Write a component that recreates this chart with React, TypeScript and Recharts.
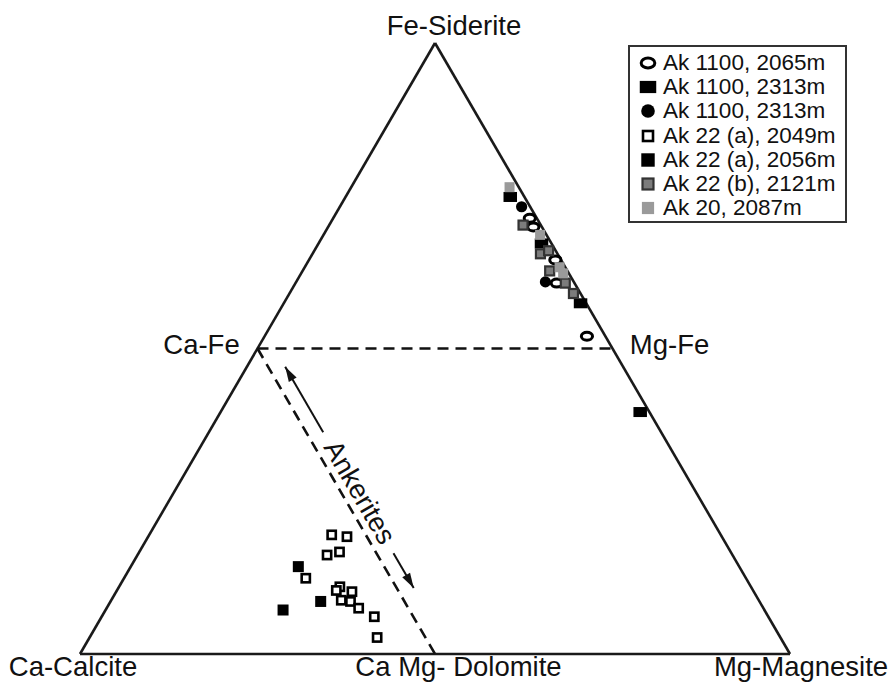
import React from 'react';
import { ScatterChart, Scatter, XAxis, YAxis, ReferenceLine, ReferenceDot, Legend } from 'recharts';

// Compositions as [Ca, Mg, Fe] in percent
type Comp = [number, number, number];

const seriesNames = [
  'Ak 1100, 2065m',
  'Ak 1100, 2313m',
  'Ak 1100, 2313m',
  'Ak 22 (a), 2049m',
  'Ak 22 (a), 2056m',
  'Ak 22 (b), 2121m',
  'Ak 20, 2087m',
];

const ak1100_2065m: Comp[] = [
  [1.0, 27.7, 71.3], [1.2, 28.9, 69.9], [0.8, 34.7, 64.5], [2.5, 36.8, 60.7], [2.6, 45.4, 52.0],
];
const ak1100_2313m_sq: Comp[] = [
  [2.0, 23.2, 74.8], [1.4, 31.4, 67.2], [0.8, 41.8, 57.4], [1.3, 59.1, 39.6],
];
const ak1100_2313m_ci: Comp[] = [
  [1.2, 25.6, 73.2], [4.0, 35.1, 60.9],
];
const ak22a_2049m: Comp[] = [
  [54.8, 25.7, 19.5], [52.8, 28.0, 19.2], [57.1, 26.7, 16.2], [55.1, 28.2, 16.7],
  [62.0, 25.6, 12.4], [57.9, 31.1, 11.0], [58.7, 30.9, 10.4], [56.6, 33.2, 10.2],
  [58.8, 32.4, 8.8], [57.6, 33.8, 8.6], [57.0, 35.5, 7.5], [55.5, 38.4, 6.1], [56.8, 40.5, 2.7],
];
const ak22a_2056m: Comp[] = [
  [62.1, 23.6, 14.3], [61.8, 29.6, 8.6], [67.8, 25.0, 7.2],
];
const ak22b_2121m: Comp[] = [
  [2.5, 27.3, 70.2], [2.4, 32.1, 65.5], [1.0, 33.0, 66.0], [2.5, 34.8, 62.7], [1.3, 38.0, 60.7], [1.0, 40.0, 59.0],
];
const ak20_2087m: Comp[] = [
  [1.3, 22.3, 76.4], [0.9, 30.5, 68.6], [0.8, 35.9, 63.3], [0.8, 36.9, 62.3],
];

const markerKinds = ['ring', 'bar', 'dot', 'box', 'solid', 'greyBox', 'lightBox'];
const seriesData = [ak1100_2065m, ak1100_2313m_sq, ak1100_2313m_ci, ak22a_2049m, ak22a_2056m, ak22b_2121m, ak20_2087m];

// Diagram geometry (compositions)
const vertexLabels = ['Ca-Calcite', 'Mg-Magnesite', 'Fe-Siderite'];
const vertices: Comp[] = [[100, 0, 0], [0, 100, 0], [0, 0, 100]];
const midLabels = ['Ca-Fe', 'Mg-Fe', 'Ca Mg- Dolomite'];
const midpoints: Comp[] = [[50, 0, 50], [0, 50, 50], [50, 50, 0]];
const annotationText = 'Ankerites';
const annotationAt: Comp = [47.3, 26.2, 26.5];
const arrowUpper: Comp[] = [[47.6, 16.1, 36.3], [47.6, 5.4, 47.0]];
const arrowLower: Comp[] = [[47.6, 35.9, 16.5], [47.6, 41.6, 10.8]];

const toXY = (c: Comp) => {
  const s = c[0] + c[1] + c[2];
  return { x: (c[1] + c[2] / 2) / s, y: c[2] / s };
};

const W = 892;
const H = 683;
const M = { top: 43, right: 102, bottom: 29, left: 80 };
const PW = W - M.left - M.right;
const PH = H - M.top - M.bottom;
const LINE_ANGLE = (Math.atan2(PH, PW / 2) * 180) / Math.PI;
const FONT = '"Liberation Sans", Arial, Helvetica, sans-serif';

function Marker({ kind, cx, cy, big }: { kind: string; cx: number; cy: number; big?: boolean }) {
  const k = big ? 1.22 : 1;
  switch (kind) {
    case 'ring':
      return <ellipse cx={cx} cy={cy} rx={5.6 * k} ry={4 * k} fill="#fff" stroke="#000" strokeWidth={3} />;
    case 'bar': {
      const w = 13.5 * k, h = 10 * k;
      return <rect x={cx - w / 2} y={cy - h / 2} width={w} height={h} fill="#000" />;
    }
    case 'dot':
      return <circle cx={cx} cy={cy} r={5.6 * k} fill="#000" />;
    case 'box': {
      const s = 8.2 * k;
      return <rect x={cx - s / 2} y={cy - s / 2} width={s} height={s} fill="#fff" stroke="#000" strokeWidth={2.6} />;
    }
    case 'solid': {
      const s = 11 * k;
      return <rect x={cx - s / 2} y={cy - s / 2} width={s} height={s} fill="#000" />;
    }
    case 'greyBox': {
      const s = 9 * k;
      return <rect x={cx - s / 2} y={cy - s / 2} width={s} height={s} fill="#7c7c7c" stroke="#333" strokeWidth={2.2} />;
    }
    default: {
      const s = 10 * k;
      return <rect x={cx - s / 2} y={cy - s / 2} width={s} height={s} fill="#9a9a9a" />;
    }
  }
}

const renderLegend = () => (
  <div
    style={{
      boxSizing: 'border-box',
      width: 219,
      height: 178,
      border: '2px solid #333',
      background: '#fff',
      paddingTop: 4,
      fontFamily: FONT,
      fontSize: 22.5,
      color: '#111',
    }}
  >
    {seriesNames.map((name, i) => (
      <div key={i} style={{ display: 'flex', alignItems: 'center', height: 24.2 }}>
        <svg width={20} height={20} style={{ marginLeft: 8, flex: 'none' }}>
          <Marker kind={markerKinds[i]} cx={10} cy={10} big />
        </svg>
        <span style={{ marginLeft: 5, lineHeight: '24px', whiteSpace: 'nowrap' }}>{name}</span>
      </div>
    ))}
  </div>
);

const textShape = (text: string, dx: number, dy: number, rotate = 0) => (p: any) => {
  const x = p.cx + dx;
  const y = p.cy + dy;
  return (
    <text
      x={x}
      y={y}
      textAnchor="middle"
      dominantBaseline={rotate ? 'central' : 'auto'}
      transform={rotate ? `rotate(${rotate}, ${x}, ${y})` : undefined}
      fontFamily={FONT}
      fontSize={27.5}
      fill="#111"
    >
      {text}
    </text>
  );
};

const arrowHead = (angle: number) => (p: any) => {
  const len = 15, half = 4.5;
  return (
    <polygon
      points={`0,0 ${-len},${-half} ${-len},${half}`}
      transform={`translate(${p.cx}, ${p.cy}) rotate(${angle})`}
      fill="#111"
    />
  );
};

const vertexOffsets = [[-7, 22], [11, 22], [19, -8]];
const midOffsets = [[-56, 5], [57, 5], [23.5, 22]];

export default function App() {
  const v = vertices.map(toXY);
  const mids = midpoints.map(toXY);
  const au = arrowUpper.map(toXY);
  const al = arrowLower.map(toXY);
  const ann = toXY(annotationAt);
  const edges = [[0, 1], [1, 2], [2, 0]];
  return (
    <div style={{ position: 'absolute', left: 0, top: 0, background: '#fff' }}>
      <ScatterChart width={W} height={H} margin={M}>
        <XAxis type="number" dataKey="x" domain={[0, 1]} hide allowDataOverflow />
        <YAxis type="number" dataKey="y" domain={[0, 1]} hide allowDataOverflow />
        {edges.map(([a, b], i) => (
          <ReferenceLine
            key={'e' + i}
            segment={[v[a], v[b]]}
            stroke="#1a1a1a"
            strokeWidth={2.6}
            ifOverflow="visible"
          />
        ))}
        <ReferenceLine segment={[mids[0], mids[1]]} stroke="#111" strokeWidth={2.6} strokeDasharray="11 7" ifOverflow="visible" />
        <ReferenceLine segment={[mids[0], mids[2]]} stroke="#111" strokeWidth={2.6} strokeDasharray="11 7" ifOverflow="visible" />
        <ReferenceLine segment={[au[0], au[1]]} stroke="#111" strokeWidth={2} ifOverflow="visible" />
        <ReferenceLine segment={[al[0], al[1]]} stroke="#111" strokeWidth={2} ifOverflow="visible" />
        <ReferenceDot x={au[1].x} y={au[1].y} r={0} ifOverflow="visible" shape={arrowHead(LINE_ANGLE + 180)} />
        <ReferenceDot x={al[1].x} y={al[1].y} r={0} ifOverflow="visible" shape={arrowHead(LINE_ANGLE)} />
        <ReferenceDot x={ann.x} y={ann.y} r={0} ifOverflow="visible" shape={textShape(annotationText, 0, 0, LINE_ANGLE)} />
        {vertexLabels.map((t, i) => (
          <ReferenceDot key={'vl' + i} x={v[i].x} y={v[i].y} r={0} ifOverflow="visible" shape={textShape(t, vertexOffsets[i][0], vertexOffsets[i][1])} />
        ))}
        {midLabels.map((t, i) => (
          <ReferenceDot key={'ml' + i} x={mids[i].x} y={mids[i].y} r={0} ifOverflow="visible" shape={textShape(t, midOffsets[i][0], midOffsets[i][1])} />
        ))}
        {seriesData.map((d, i) => (
          <Scatter
            key={'s' + i}
            name={seriesNames[i]}
            data={d.map(toXY)}
            isAnimationActive={false}
            shape={(p: any) => <Marker kind={markerKinds[i]} cx={p.cx} cy={p.cy} />}
          />
        ))}
        <Legend
          layout="vertical"
          align="center"
          verticalAlign="middle"
          content={renderLegend}
          wrapperStyle={{ left: 628, top: 45, width: 219, height: 178 }}
        />
      </ScatterChart>
    </div>
  );
}
